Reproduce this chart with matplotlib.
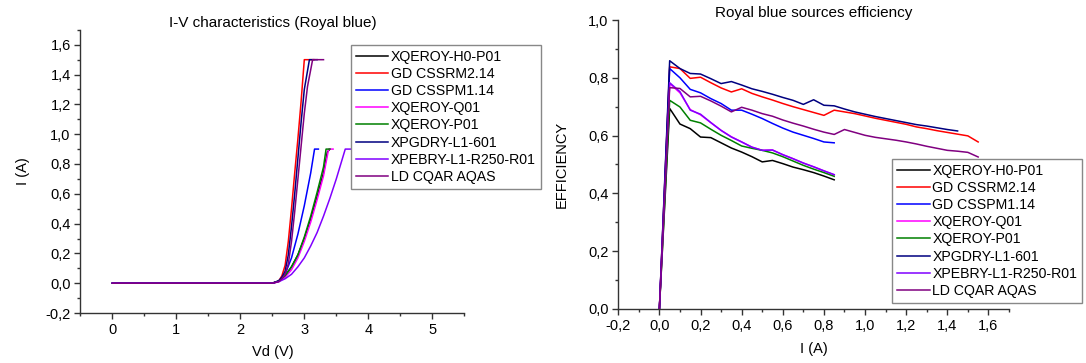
import matplotlib
matplotlib.use("Agg")
import matplotlib.pyplot as plt
from matplotlib.ticker import MultipleLocator, FuncFormatter

plt.rcParams["font.family"] = ["Liberation Sans", "DejaVu Sans"]

names = ["XQEROY-H0-P01", "GD CSSRM2.14", "GD CSSPM1.14", "XQEROY-Q01",
         "XQEROY-P01", "XPGDRY-L1-601", "XPEBRY-L1-R250-R01", "LD CQAR AQAS"]
colors = ["#000000", "#ff0000", "#0000ff", "#ff00ff",
          "#008000", "#000080", "#8000ff", "#800080"]

# I-V curves (Vd in V, I in A)
iv_v = [
    [0, 2.5, 2.6, 2.7, 2.8, 2.9, 3.0, 3.1, 3.2, 3.3, 3.36, 3.4],
    [0, 2.5, 2.6, 2.65, 2.7, 2.75, 2.8, 2.85, 2.9, 2.95, 3.0, 3.15],
    [0, 2.5, 2.6, 2.7, 2.8, 2.9, 3.0, 3.1, 3.16, 3.22],
    [0, 2.5, 2.6, 2.7, 2.8, 2.9, 3.0, 3.1, 3.2, 3.3, 3.38, 3.45],
    [0, 2.5, 2.6, 2.7, 2.8, 2.9, 3.0, 3.1, 3.2, 3.3, 3.34, 3.4],
    [0, 2.5, 2.6, 2.65, 2.7, 2.75, 2.8, 2.85, 2.9, 2.95, 3.0, 3.08, 3.2],
    [0, 2.5, 2.6, 2.7, 2.8, 2.9, 3.0, 3.1, 3.2, 3.3, 3.4, 3.5, 3.64, 3.72],
    [0, 2.5, 2.6, 2.65, 2.7, 2.75, 2.8, 2.85, 2.9, 2.95, 3.0, 3.05, 3.13, 3.3],
]
iv_i = [
    [0, 0, 0.015, 0.05, 0.11, 0.19, 0.3, 0.43, 0.58, 0.74, 0.88, 0.9],
    [0, 0, 0.015, 0.05, 0.12, 0.28, 0.5, 0.74, 0.97, 1.22, 1.5, 1.5],
    [0, 0, 0.015, 0.06, 0.17, 0.33, 0.52, 0.74, 0.9, 0.9],
    [0, 0, 0.01, 0.04, 0.09, 0.17, 0.28, 0.41, 0.56, 0.72, 0.9, 0.9],
    [0, 0, 0.015, 0.05, 0.11, 0.19, 0.31, 0.45, 0.61, 0.78, 0.9, 0.9],
    [0, 0, 0.015, 0.04, 0.08, 0.19, 0.38, 0.6, 0.84, 1.08, 1.3, 1.5, 1.5],
    [0, 0, 0.01, 0.03, 0.06, 0.11, 0.17, 0.25, 0.34, 0.45, 0.57, 0.7, 0.9, 0.9],
    [0, 0, 0.01, 0.03, 0.06, 0.13, 0.28, 0.48, 0.7, 0.92, 1.14, 1.32, 1.5, 1.5],
]

# efficiency vs current
eff_i = [
    [0, 0.05, 0.1, 0.15, 0.2, 0.25, 0.3, 0.35, 0.4, 0.45, 0.5, 0.55, 0.6, 0.65, 0.7, 0.75, 0.8, 0.85],
    [0, 0.05, 0.1, 0.15, 0.2, 0.25, 0.3, 0.35, 0.4, 0.45, 0.5, 0.55, 0.6, 0.65, 0.7, 0.75, 0.8, 0.85,
     0.9, 0.95, 1.0, 1.05, 1.1, 1.15, 1.2, 1.25, 1.3, 1.35, 1.4, 1.45, 1.5, 1.55],
    [0, 0.05, 0.1, 0.15, 0.2, 0.25, 0.3, 0.35, 0.4, 0.45, 0.5, 0.55, 0.6, 0.65, 0.7, 0.75, 0.8, 0.85],
    [0, 0.05, 0.1, 0.15, 0.2, 0.25, 0.3, 0.35, 0.4, 0.45, 0.5, 0.55, 0.6, 0.65, 0.7, 0.75, 0.8, 0.85],
    [0, 0.05, 0.1, 0.15, 0.2, 0.25, 0.3, 0.35, 0.4, 0.45, 0.5, 0.55, 0.6, 0.65, 0.7, 0.75, 0.8, 0.85],
    [0, 0.05, 0.1, 0.15, 0.2, 0.25, 0.3, 0.35, 0.4, 0.45, 0.5, 0.55, 0.6, 0.65, 0.7, 0.75, 0.8, 0.85,
     0.9, 0.95, 1.0, 1.05, 1.1, 1.15, 1.2, 1.25, 1.3, 1.35, 1.4, 1.45],
    [0, 0.05, 0.1, 0.15, 0.2, 0.25, 0.3, 0.35, 0.4, 0.45, 0.5, 0.55, 0.6, 0.65, 0.7, 0.75, 0.8, 0.85],
    [0, 0.05, 0.1, 0.15, 0.2, 0.25, 0.3, 0.35, 0.4, 0.45, 0.5, 0.55, 0.6, 0.65, 0.7, 0.75, 0.8, 0.85,
     0.9, 0.95, 1.0, 1.05, 1.1, 1.15, 1.2, 1.25, 1.3, 1.35, 1.4, 1.45, 1.5, 1.55],
]
eff = [
    [0, 0.694, 0.640, 0.624, 0.595, 0.593, 0.575, 0.557, 0.543, 0.527, 0.509, 0.514, 0.503, 0.491,
     0.482, 0.472, 0.460, 0.447],
    [0, 0.838, 0.832, 0.798, 0.802, 0.783, 0.765, 0.751, 0.762, 0.746, 0.734, 0.723, 0.711, 0.700,
     0.690, 0.680, 0.670, 0.688, 0.682, 0.676, 0.668, 0.660, 0.653, 0.646, 0.639, 0.630, 0.624, 0.617,
     0.611, 0.605, 0.599, 0.578],
    [0, 0.832, 0.800, 0.760, 0.748, 0.728, 0.711, 0.688, 0.688, 0.674, 0.659, 0.642, 0.626, 0.612,
     0.601, 0.590, 0.578, 0.575],
    [0, 0.780, 0.748, 0.690, 0.672, 0.645, 0.618, 0.596, 0.578, 0.560, 0.549, 0.550, 0.534, 0.520,
     0.505, 0.492, 0.478, 0.464],
    [0, 0.722, 0.699, 0.653, 0.644, 0.622, 0.601, 0.583, 0.564, 0.556, 0.549, 0.540, 0.527, 0.512,
     0.497, 0.484, 0.472, 0.459],
    [0, 0.859, 0.832, 0.815, 0.813, 0.797, 0.780, 0.787, 0.775, 0.762, 0.753, 0.743, 0.732, 0.722,
     0.708, 0.724, 0.705, 0.703, 0.692, 0.682, 0.674, 0.666, 0.659, 0.652, 0.645, 0.638, 0.633, 0.627,
     0.621, 0.616],
    [0, 0.783, 0.752, 0.688, 0.674, 0.645, 0.618, 0.595, 0.578, 0.560, 0.549, 0.550, 0.534, 0.520,
     0.505, 0.492, 0.478, 0.465],
    [0, 0.766, 0.763, 0.734, 0.736, 0.720, 0.702, 0.682, 0.698, 0.688, 0.676, 0.667, 0.654, 0.643,
     0.633, 0.622, 0.612, 0.604, 0.621, 0.611, 0.601, 0.594, 0.589, 0.584, 0.578, 0.571, 0.563, 0.556,
     0.549, 0.546, 0.542, 0.526],
]


def comma(fmt):
    return FuncFormatter(lambda v, pos: (fmt % v).replace(".", ","))


def style_axes(ax):
    for side in ("top", "right"):
        ax.spines[side].set_visible(False)
    for side in ("left", "bottom"):
        ax.spines[side].set_color("#333333")
        ax.spines[side].set_linewidth(1.0)
    ax.tick_params(which="major", direction="out", length=4, width=1, labelsize=10.5,
                   color="#333333", pad=3)
    ax.tick_params(which="minor", direction="out", length=2, width=1, color="#333333")


fig = plt.figure(figsize=(10.86, 3.63), dpi=100)
leg_kw = dict(loc="upper left", bbox_transform=fig.transFigure, borderaxespad=0,
              fancybox=False, edgecolor="#888888", fontsize=10.2, handlelength=2.3,
              handletextpad=0.2, labelspacing=0.22, borderpad=0.35, framealpha=1)

# left panel: I-V characteristics
ax1 = fig.add_axes([0.0740, 0.1377, 0.3535, 0.780])
for v, i, c, n in zip(iv_v, iv_i, colors, names):
    ax1.plot(v, i, color=c, lw=1.1, label=n)
ax1.set_xlim(-0.5, 5.5)
ax1.set_ylim(-0.2, 1.7)
ax1.xaxis.set_major_locator(MultipleLocator(1))
ax1.xaxis.set_minor_locator(MultipleLocator(0.5))
ax1.yaxis.set_major_locator(MultipleLocator(0.2))
ax1.yaxis.set_minor_locator(MultipleLocator(0.1))
ax1.yaxis.set_major_formatter(comma("%.1f"))
style_axes(ax1)
ax1.set_xlabel("Vd (V)", fontsize=10.5, labelpad=6)
ax1.set_ylabel("I (A)", fontsize=10.5, labelpad=11)
ax1.set_title("I-V characteristics (Royal blue)", fontsize=11, pad=-3)
ax1.legend(bbox_to_anchor=(0.323, 0.876), **leg_kw)

# right panel: efficiency
ax2 = fig.add_axes([0.5693, 0.1488, 0.3598, 0.7961])
for i, e, c, n in zip(eff_i, eff, colors, names):
    ax2.plot(i, e, color=c, lw=1.1, label=n)
ax2.set_xlim(-0.2, 1.7)
ax2.set_ylim(0, 1.0)
ax2.xaxis.set_major_locator(MultipleLocator(0.2))
ax2.xaxis.set_minor_locator(MultipleLocator(0.1))
ax2.yaxis.set_major_locator(MultipleLocator(0.2))
ax2.yaxis.set_minor_locator(MultipleLocator(0.1))
ax2.xaxis.set_major_formatter(comma("%.1f"))
ax2.yaxis.set_major_formatter(comma("%.1f"))
style_axes(ax2)
ax2.set_xlabel("I (A)", fontsize=10.5, labelpad=7)
ax2.set_ylabel("EFFICIENCY", fontsize=10.5, labelpad=14)
ax2.set_title("Royal blue sources efficiency", fontsize=11, pad=-2)
ax2.legend(bbox_to_anchor=(0.8214, 0.562), **leg_kw)

fig.savefig("out.png", dpi=100)
